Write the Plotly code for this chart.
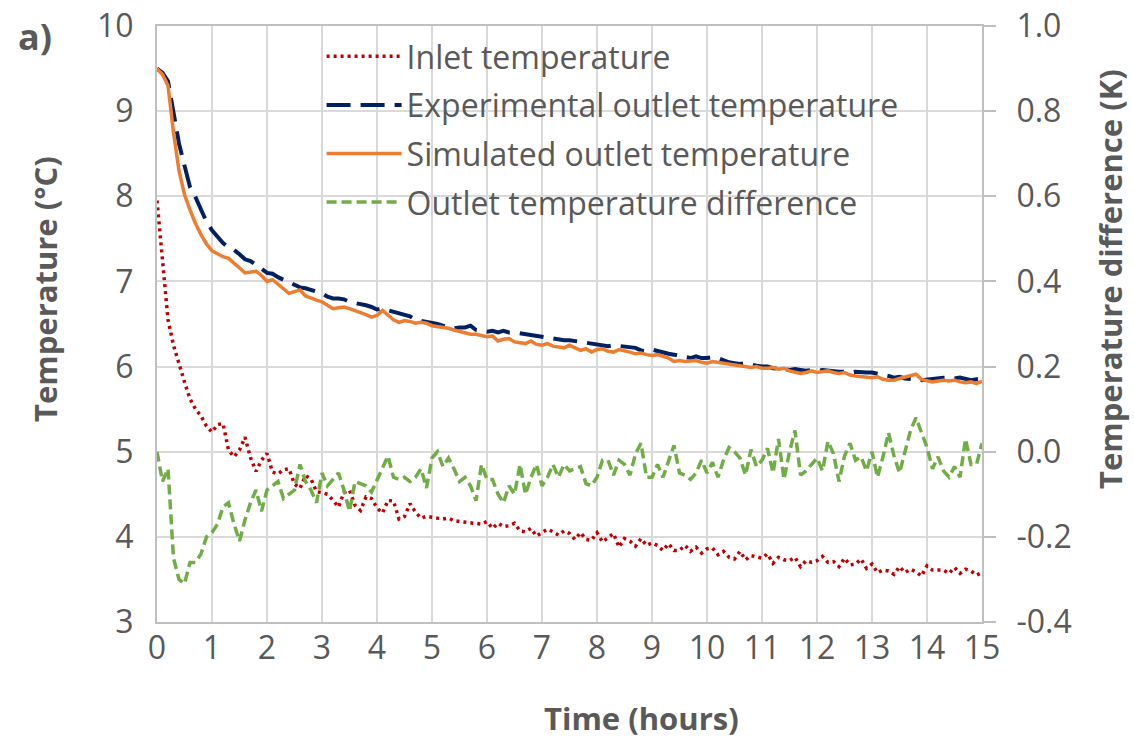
import numpy as np
import plotly.graph_objects as go

# Time axis (hours), sampled every 0.1 h
time_h = np.round(np.arange(151) * 0.1, 1)

inlet_temp = [
    7.95, 7.25, 6.55, 6.25, 6.02, 5.82, 5.62, 5.50, 5.42, 5.30,
    5.23, 5.32, 5.33, 5.02, 4.94, 5.02, 5.17, 4.93, 4.77, 4.90,
    4.98, 4.76, 4.74, 4.79, 4.80, 4.62, 4.57, 4.72, 4.68, 4.53,
    4.52, 4.50, 4.43, 4.35, 4.52, 4.55, 4.37, 4.31, 4.47, 4.45,
    4.34, 4.28, 4.43, 4.42, 4.21, 4.24, 4.39, 4.29, 4.22, 4.24,
    4.23, 4.22, 4.21, 4.22, 4.19, 4.18, 4.17, 4.16, 4.15, 4.15,
    4.18, 4.10, 4.16, 4.12, 4.13, 4.16, 4.07, 4.06, 4.10, 4.01,
    4.05, 4.09, 4.06, 4.02, 4.07, 4.04, 3.97, 4.05, 3.97, 3.96,
    4.05, 3.94, 3.99, 4.04, 3.88, 3.98, 3.95, 3.89, 3.98, 3.90,
    3.93, 3.90, 3.84, 3.92, 3.84, 3.84, 3.90, 3.83, 3.88, 3.81,
    3.86, 3.87, 3.79, 3.83, 3.76, 3.74, 3.83, 3.73, 3.78, 3.76,
    3.75, 3.80, 3.69, 3.76, 3.73, 3.72, 3.76, 3.65, 3.72, 3.70,
    3.72, 3.77, 3.70, 3.71, 3.65, 3.75, 3.67, 3.68, 3.74, 3.63,
    3.68, 3.58, 3.61, 3.60, 3.56, 3.65, 3.58, 3.62, 3.59, 3.54,
    3.66, 3.61, 3.61, 3.61, 3.57, 3.64, 3.57, 3.62, 3.60, 3.55,
    3.58,
]

exp_outlet = [
    9.50, 9.45, 9.35, 9.01, 8.62, 8.36, 8.11, 7.99, 7.84, 7.70,
    7.60, 7.52, 7.45, 7.40, 7.37, 7.32, 7.26, 7.24, 7.20, 7.15,
    7.10, 7.09, 7.05, 7.02, 6.98, 6.96, 6.93, 6.92, 6.90, 6.88,
    6.86, 6.82, 6.80, 6.80, 6.79, 6.76, 6.75, 6.73, 6.72, 6.70,
    6.67, 6.68, 6.66, 6.64, 6.62, 6.60, 6.59, 6.55, 6.54, 6.52,
    6.51, 6.50, 6.48, 6.47, 6.45, 6.46, 6.46, 6.48, 6.43, 6.42,
    6.41, 6.42, 6.40, 6.42, 6.40, 6.40, 6.39, 6.38, 6.37, 6.35,
    6.35, 6.34, 6.33, 6.32, 6.31, 6.31, 6.30, 6.28, 6.28, 6.27,
    6.25, 6.25, 6.24, 6.25, 6.24, 6.23, 6.22, 6.22, 6.19, 6.18,
    6.20, 6.18, 6.16, 6.15, 6.14, 6.13, 6.12, 6.10, 6.12, 6.10,
    6.10, 6.11, 6.10, 6.07, 6.05, 6.04, 6.03, 6.04, 6.02, 6.01,
    6.00, 6.00, 5.98, 5.98, 5.97, 5.96, 5.97, 5.96, 5.95, 5.96,
    5.95, 5.96, 5.95, 5.94, 5.94, 5.94, 5.93, 5.94, 5.93, 5.93,
    5.93, 5.92, 5.90, 5.89, 5.87, 5.88, 5.86, 5.86, 5.85, 5.84,
    5.85, 5.85, 5.86, 5.87, 5.87, 5.86, 5.87, 5.86, 5.84, 5.85,
    5.85,
]

sim_outlet = [
    9.50, 9.43, 9.30, 8.75, 8.30, 8.02, 7.84, 7.68, 7.55, 7.44,
    7.36, 7.32, 7.29, 7.27, 7.22, 7.16, 7.10, 7.11, 7.12, 7.07,
    7.00, 7.02, 6.97, 6.91, 6.86, 6.88, 6.90, 6.83, 6.80, 6.78,
    6.76, 6.72, 6.68, 6.69, 6.70, 6.68, 6.66, 6.64, 6.61, 6.58,
    6.60, 6.66, 6.60, 6.55, 6.52, 6.54, 6.53, 6.51, 6.52, 6.51,
    6.48, 6.47, 6.47, 6.45, 6.43, 6.41, 6.40, 6.38, 6.38, 6.37,
    6.35, 6.36, 6.30, 6.32, 6.33, 6.29, 6.28, 6.27, 6.30, 6.26,
    6.25, 6.27, 6.24, 6.23, 6.22, 6.25, 6.22, 6.19, 6.21, 6.17,
    6.20, 6.21, 6.18, 6.17, 6.20, 6.19, 6.17, 6.15, 6.16, 6.14,
    6.13, 6.14, 6.12, 6.10, 6.06, 6.07, 6.06, 6.07, 6.07, 6.05,
    6.04, 6.06, 6.05, 6.04, 6.04, 6.02, 6.01, 6.00, 5.99, 6.00,
    5.98, 5.98, 5.99, 5.97, 5.98, 5.95, 5.94, 5.92, 5.93, 5.95,
    5.93, 5.94, 5.95, 5.93, 5.92, 5.93, 5.90, 5.89, 5.88, 5.88,
    5.87, 5.88, 5.85, 5.84, 5.84, 5.86, 5.88, 5.90, 5.91, 5.85,
    5.83, 5.82, 5.83, 5.84, 5.83, 5.84, 5.82, 5.81, 5.82, 5.80,
    5.83,
]

outlet_diff = [
    0.00, -0.07, -0.04, -0.25, -0.30, -0.31, -0.26, -0.26, -0.24, -0.20,
    -0.19, -0.17, -0.13, -0.12, -0.17, -0.21, -0.16, -0.12, -0.09, -0.14,
    -0.09, -0.08, -0.07, -0.11, -0.10, -0.09, -0.03, -0.07, -0.09, -0.12,
    -0.05, -0.08, -0.065, -0.05, -0.09, -0.14, -0.07, -0.075, -0.08, -0.095,
    -0.065, -0.035, -0.01, -0.06, -0.065, -0.06, -0.07, -0.06, -0.04, -0.085,
    -0.015, 0.00, -0.035, -0.015, -0.04, -0.07, -0.06, -0.08, -0.115, -0.03,
    -0.065, -0.065, -0.10, -0.12, -0.08, -0.10, -0.03, -0.10, -0.06, -0.03,
    -0.08, -0.06, -0.03, -0.06, -0.03, -0.045, -0.04, -0.035, -0.075, -0.08,
    -0.06, -0.02, -0.02, -0.055, -0.02, -0.03, -0.055, -0.005, 0.02, -0.06,
    -0.06, -0.03, -0.06, -0.02, 0.015, -0.05, -0.055, -0.065, -0.05, -0.02,
    -0.05, -0.025, -0.06, -0.02, 0.01, 0.00, -0.015, -0.055, 0.005, -0.035,
    -0.02, 0.008, -0.05, 0.03, -0.065, 0.00, 0.05, -0.055, -0.045, -0.03,
    -0.015, -0.045, 0.025, -0.005, -0.07, -0.01, 0.02, -0.02, -0.012, -0.045,
    0.00, -0.06, -0.012, 0.045, -0.01, -0.05, 0.00, 0.05, 0.08, 0.045,
    0.01, -0.04, -0.012, -0.045, -0.06, -0.035, -0.06, 0.03, -0.03, -0.03,
    0.02,
]

series_names = [
    "Inlet temperature",
    "Experimental outlet temperature",
    "Simulated outlet temperature",
    "Outlet temperature difference",
]

# Right-axis tick values and labels (hyphen minus as in the original)
diff_ticks = [-0.4, -0.2, 0.0, 0.2, 0.4, 0.6, 0.8, 1.0]
diff_ticklabels = ["-0.4", "-0.2", "0.0", "0.2", "0.4", "0.6", "0.8", "1.0"]

FONT = "Open Sans, Noto Sans, DejaVu Sans, sans-serif"
TXT = "#595959"
GRID = "#D9D9D9"
AXL = "#BFBFBF"
FS = 32
TFS = 31

# target plot area in screen px (page body margin removed below)
pl, pr, pt, pb = 157, 982, 26, 622
W, H = 1134, 740

fig = go.Figure()
fig.add_trace(go.Scatter(
    x=time_h, y=inlet_temp, name=series_names[0], legendgroup="a",
    mode="lines", line=dict(color="#C00000", width=3.5, dash="3px,4px"),
))
fig.add_trace(go.Scatter(
    x=time_h, y=exp_outlet, name=series_names[1], legendgroup="b",
    mode="lines", line=dict(color="#002060", width=4, dash="24px,10px"),
))
fig.add_trace(go.Scatter(
    x=time_h, y=sim_outlet, name=series_names[2], legendgroup="c",
    mode="lines", line=dict(color="#ED7D31", width=3.5),
))
fig.add_trace(go.Scatter(
    x=time_h, y=outlet_diff, name=series_names[3], legendgroup="d",
    mode="lines", line=dict(color="#70AD47", width=3.5, dash="10px,5px"),
    yaxis="y2",
))

fig.update_layout(
    width=W, height=H,
    margin=dict(l=pl, r=W - pr, t=pt, b=H - pb, autoexpand=False),
    paper_bgcolor="white", plot_bgcolor="white",
    font=dict(family=FONT, size=FS, color=TXT),
    showlegend=True,
    legend=dict(
        x=0.1995, y=0.995, xanchor="left", yanchor="top",
        bgcolor="rgba(0,0,0,0)", font=dict(size=FS, color=TXT),
        itemwidth=75, traceorder="grouped", tracegroupgap=4,
    ),
    xaxis=dict(
        range=[0, 15], dtick=1, tick0=0, showgrid=True, gridcolor=GRID, gridwidth=2,
        showline=True, linecolor=AXL, linewidth=2, ticks="", zeroline=False, mirror=True,
        tickfont=dict(size=FS, color=TXT), ticklabelstandoff=-3, automargin=False,
        ticklabeloverflow="allow",
    ),
    yaxis=dict(
        range=[3, 10], dtick=1, tick0=3, showgrid=True, gridcolor=GRID, gridwidth=2,
        showline=True, linecolor=AXL, linewidth=2, ticks="", zeroline=False,
        tickfont=dict(size=FS, color=TXT), ticklabelstandoff=15, automargin=False,
        ticklabeloverflow="allow",
    ),
    yaxis2=dict(
        range=[-0.4, 1.0], tickmode="array", tickvals=diff_ticks, ticktext=diff_ticklabels,
        overlaying="y", side="right",
        showgrid=False, zeroline=False, showline=True, linecolor=AXL, linewidth=2,
        ticks="outside", ticklen=12, tickcolor=AXL, tickwidth=2,
        tickfont=dict(size=FS, color=TXT), ticklabelstandoff=14, automargin=False,
        ticklabeloverflow="allow",
    ),
)

def px_x(px):
    return (px - pl) / (pr - pl)
def px_y(py):
    return (pb - py) / (pb - pt)

common = dict(xref="paper", yref="paper", showarrow=False, xanchor="center", yanchor="middle")
fig.update_layout(annotations=[
    dict(text="<b>a)</b>", x=px_x(35), y=px_y(37), font=dict(size=36, color=TXT), **common),
    dict(text="<b>Time (hours)</b>", x=px_x(641), y=px_y(718),
         font=dict(size=TFS, color=TXT), **common),
    dict(text="<b>Temperature (°C)</b>", x=px_x(45), y=px_y(289), textangle=-90,
         font=dict(size=TFS, color=TXT), **common),
    dict(text="<b>Temperature difference (K)</b>", x=px_x(1110), y=px_y(279), textangle=-90,
         font=dict(size=TFS, color=TXT), **common),
])

fig.write_html(
    "out.html",
    config={"displayModeBar": False},
    post_script="document.body.style.margin='0px';",
)
